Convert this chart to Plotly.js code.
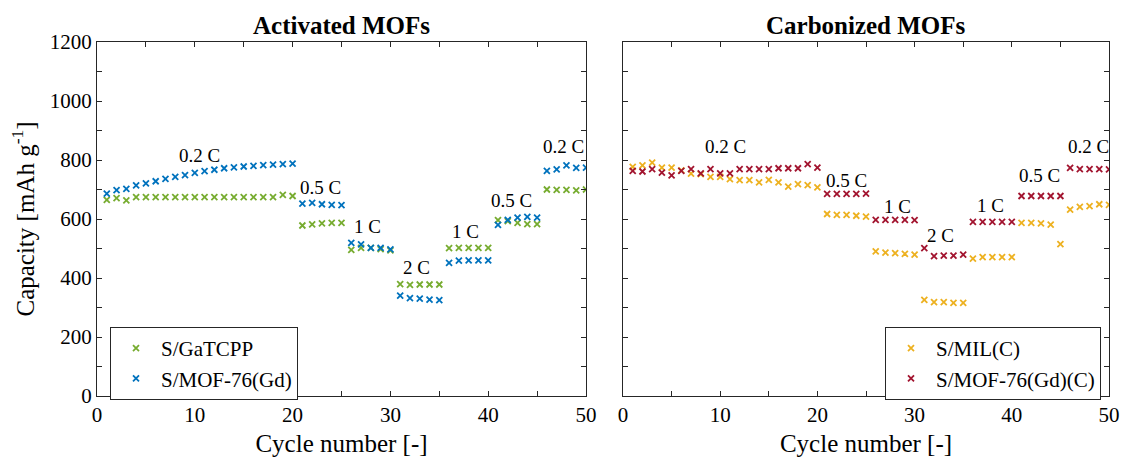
<!DOCTYPE html>
<html>
<head>
<meta charset="utf-8">
<script src="https://cdn.plot.ly/plotly-3.0.1.min.js"></script>
<style>html,body{margin:0;padding:0;background:#fff;}#chart{width:1122px;height:459px;}</style>
</head>
<body>
<div id="chart"></div>
<script>
// ---- data ----
const cycles = [1,2,3,4,5,6,7,8,9,10,11,12,13,14,15,16,17,18,19,20,21,22,23,24,25,26,27,28,29,30,31,32,33,34,35,36,37,38,39,40,41,42,43,44,45,46,47,48,49,50];

const gaTCPP = [665,671,663,674,674,674,674,674,674,674,674,674,674,674,674,674,674,674,682,678,
                578,582,585,587,587, 495,502,502,498,494, 379,377,378,378,378,
                501,502,502,502,502, 596,593,587,583,583, 700,699,699,697,700];
const mof76 = [686,698,702,714,721,728,736,743,749,756,762,767,772,775,778,780,783,784,786,788,
               652,655,650,648,647, 519,514,502,502,497, 340,332,330,327,325,
               451,459,460,460,460, 580,597,605,607,605, 763,768,782,773,774];
const milC = [777,782,791,774,774,765,754,752,743,743,735,732,732,724,733,724,710,718,715,707,
              617,614,614,611,608, 490,486,484,482,479, 326,318,318,316,316,
              466,471,471,471,471, 587,587,585,581,515, 632,641,644,650,648];
const mof76C = [763,761,769,757,748,763,769,755,769,755,755,769,769,769,769,772,772,772,786,774,
                685,685,685,685,686, 597,597,597,597,596, 501,474,476,476,479,
                590,590,590,590,590, 678,678,678,678,678, 773,769,769,769,768];

const panelTitles = ['Activated MOFs', 'Carbonized MOFs'];
const seriesNames = ['S/GaTCPP', 'S/MOF-76(Gd)', 'S/MIL(C)', 'S/MOF-76(Gd)(C)'];
const rateLabels = ['0.2 C','0.5 C','1 C','2 C','1 C','0.5 C','0.2 C'];
const rateXLeft  = [10.5, 22.9, 27.7, 32.7, 37.7, 42.4, 47.7];
const rateYLeft  = [816, 708, 576, 437, 559, 664, 847];
const rateXRight = [10.5, 23.0, 28.2, 32.7, 37.8, 42.8, 47.9];
const rateYRight = [847, 731, 643, 545, 647, 748, 847];
const xTickVals = [0,5,10,15,20,25,30,35,40,45,50];
const xTickText = ['0',' ','10',' ','20',' ','30',' ','40',' ','50'];
const yTickVals = [0,100,200,300,400,500,600,700,800,900,1000,1100,1200];
const yTickText = ['0',' ','200',' ','400',' ','600',' ','800',' ','1000',' ','1200'];

// ---- styling ----
const FONT = '"Liberation Serif"';
const AX = '#262626';
const colors = ['#77AC30', '#0072BD', '#EDB120', '#A2142F'];

function tr(y, i, xa, ya, leg) {
  return {
    x: cycles, y: y, name: seriesNames[i], type: 'scatter', mode: 'markers',
    xaxis: xa, yaxis: ya, legend: leg,
    marker: {symbol: 'x-thin', size: 6, line: {width: 1.8, color: colors[i]}, color: colors[i]}
  };
}

const data = [
  tr(gaTCPP, 0, 'x', 'y', 'legend'),
  tr(mof76, 1, 'x', 'y', 'legend'),
  tr(milC, 2, 'x2', 'y2', 'legend2'),
  tr(mof76C, 3, 'x2', 'y2', 'legend2')
];

const W = 1122;
function xax(d, anchor) {
  return {
    anchor: anchor,
    domain: d, range: [0, 50], tickvals: xTickVals, ticktext: xTickText,
    ticks: 'inside', ticklen: 5, tickcolor: AX, tickwidth: 1,
    showline: true, linecolor: AX, linewidth: 1, mirror: 'ticks',
    showgrid: false, zeroline: false,
    tickfont: {family: FONT, size: 21, color: '#000'},
    title: {text: 'Cycle number [-]', font: {family: FONT, size: 25, color: '#000'}, standoff: 8}
  };
}
function yax(anchor, labels) {
  return {
    anchor: anchor, domain: [0, 1], range: [0, 1200], tickvals: yTickVals,
    ticktext: labels ? yTickText : yTickVals.map(() => ' '),
    ticks: 'inside', ticklen: 5, tickcolor: AX, tickwidth: 1,
    showline: true, linecolor: AX, linewidth: 1, mirror: 'ticks',
    showgrid: false, zeroline: false,
    tickfont: {family: FONT, size: 21, color: '#000'}
  };
}

const xa1 = xax([97 / W, 586 / W], 'y');
const xa2 = xax([623 / W, 1109 / W], 'y2');
const ya1 = yax('x', true);
ya1.title = {text: 'Capacity [mAh g<sup>-1</sup>]', font: {family: FONT, size: 25, color: '#000'}, standoff: 8};
const ya2 = yax('x2', false);

const annotations = [];
rateLabels.forEach((t, i) => {
  annotations.push({x: rateXLeft[i], y: rateYLeft[i], xref: 'x', yref: 'y', text: t, showarrow: false,
    font: {family: FONT, size: 19, color: '#000'}});
  annotations.push({x: rateXRight[i], y: rateYRight[i], xref: 'x2', yref: 'y2', text: t, showarrow: false,
    font: {family: FONT, size: 19, color: '#000'}});
});
annotations.push({x: 0.5, xref: 'x domain', y: 1, yref: 'y domain', yanchor: 'bottom', yshift: 1,
  text: '<b>' + panelTitles[0] + '</b>', showarrow: false, font: {family: FONT, size: 25, color: '#000'}});
annotations.push({x: 0.5, xref: 'x2 domain', y: 1, yref: 'y2 domain', yanchor: 'bottom', yshift: 1,
  text: '<b>' + panelTitles[1] + '</b>', showarrow: false, font: {family: FONT, size: 25, color: '#000'}});

const legStyle = {
  bgcolor: '#fff', bordercolor: AX, borderwidth: 1,
  font: {family: FONT, size: 21, color: '#000'},
  yanchor: 'top', y: (396 - 327) / 354, tracegroupgap: 0, itemwidth: 40
};

const layout = {
  width: 1122, height: 459,
  margin: {l: 0, r: 0, t: 42, b: 63},
  paper_bgcolor: '#fff', plot_bgcolor: '#fff',
  font: {family: FONT, color: '#000'},
  xaxis: xa1, yaxis: ya1, xaxis2: xa2, yaxis2: ya2,
  showlegend: true,
  legend: Object.assign({}, legStyle, {x: 110 / W, xanchor: 'left'}),
  legend2: Object.assign({}, legStyle, {x: 1101 / W, xanchor: 'right'}),
  annotations: annotations
};

Plotly.newPlot('chart', data, layout, {displayModeBar: false, staticPlot: true});
</script>
</body>
</html>
